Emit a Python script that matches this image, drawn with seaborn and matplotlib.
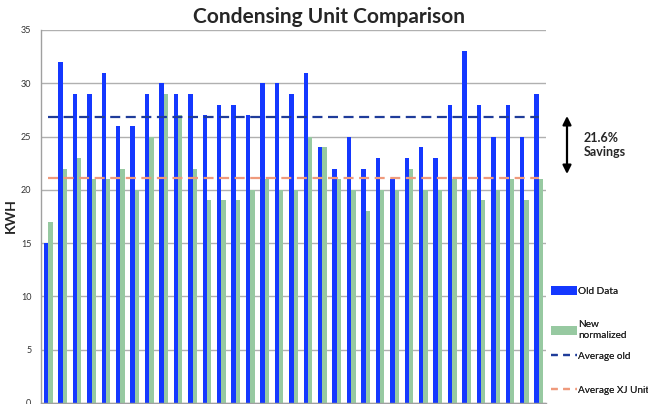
import matplotlib
matplotlib.use("Agg")
import matplotlib.pyplot as plt
import seaborn as sns
import numpy as np
import pandas as pd
from matplotlib.patches import Patch, FancyArrowPatch
from matplotlib.lines import Line2D

sns.set_theme(style="white")
plt.rcParams['font.family'] = ['Lato', 'DejaVu Sans']

# KWH per unit
old_data = [15, 32, 29, 29, 31, 26, 26, 29, 30, 29, 29, 27, 28, 28, 27, 30, 30, 29, 31, 24,
            22, 25, 22, 23, 21, 23, 24, 23, 28, 33, 28, 25, 28, 25, 29]
new_normalized = [17, 22, 23, 21, 21, 22, 20, 25, 29, 27, 22, 19, 19, 19, 20, 21, 20, 20, 25, 24,
                  21, 20, 18, 20, 20, 22, 20, 20, 21, 20, 19, 20, 21, 19, 21]
units = list(range(1, len(old_data) + 1))
series_names = ["Old Data", "New normalized"]
savings_label = "21.6%\nSavings"

blue = "#1438ff"
green = "#97c9a1"
navy = "#1f3c9a"
salmon = "#ef9a7c"

df = pd.DataFrame({
    "unit": units * 2,
    "kwh": old_data + new_normalized,
    "series": [series_names[0]] * len(units) + [series_names[1]] * len(units),
})

fig = plt.figure(figsize=(6.48, 4.04), dpi=100)
ax = fig.add_axes([0.0633, 0.0025, 0.7793, 0.9233])

sns.barplot(data=df, x="unit", y="kwh", hue="series", palette=[blue, green],
            width=0.6, ax=ax, legend=False, saturation=1, linewidth=0)

# average lines across the categories
avg_old = np.mean(old_data)
avg_new = np.mean(new_normalized)
dash = (0, (4.5, 2.5))
ax.hlines(avg_old, 0, len(units) - 1, colors=navy, linewidth=1.6, linestyles=dash, zorder=3)
ax.hlines(avg_new, 0, len(units) - 1, colors=salmon, linewidth=1.6, linestyles=dash, zorder=3)

ax.set_ylim(0, 35)
ax.set_xlim(-0.5, len(units) - 0.5)
ax.set_yticks(np.arange(0, 36, 5))
ax.yaxis.grid(True, color="#b0b0b0", linewidth=1)
ax.set_axisbelow(True)
ax.set_xticks([])
ax.set_xlabel("")
ax.set_ylabel("")
ax.tick_params(axis="y", labelsize=6.5, length=4, width=1, color="#a0a0a0", pad=3, labelcolor="#333333")
for side in ["top", "right"]:
    ax.spines[side].set_visible(False)
for side in ["left", "bottom"]:
    ax.spines[side].set_color("#a0a0a0")
    ax.spines[side].set_linewidth(1)

fig.text(0.017, 1 - 216 / 404, "KWH", rotation=90, fontsize=10, fontweight="bold",
         ha="center", va="center")
fig.suptitle("Condensing Unit Comparison", x=0.507, y=1 - 17 / 404, va="center",
             fontsize=15, fontweight="bold")

# legend entries, one per row
entries = [
    (Patch(facecolor=blue, edgecolor="none"), "Old Data", 291),
    (Patch(facecolor=green, edgecolor="none"), "New\nnormalized", 330),
    (Line2D([0], [0], color=navy, linewidth=1.6, linestyle=(0, (3, 2.5))), "Average old", 356),
    (Line2D([0], [0], color=salmon, linewidth=1.6, linestyle=(0, (3, 2.5))), "Average XJ Unit", 390),
]
for handle, label, ypix in entries:
    leg = fig.legend([handle], [label], loc="center left", bbox_to_anchor=(551 / 648, 1 - ypix / 404),
                     frameon=False, fontsize=7.2, handlelength=2.6, handleheight=1.0,
                     handletextpad=0.12, borderpad=0, borderaxespad=0)
    fig.add_artist(leg)

# savings arrow between the two averages
fig.add_artist(FancyArrowPatch(
    (567 / 648, 1 - 116 / 404), (567 / 648, 1 - 174 / 404), transform=fig.transFigure,
    arrowstyle="<|-|>,head_length=0.5,head_width=0.25", mutation_scale=10, color="black",
    linewidth=1.6, shrinkA=0, shrinkB=0))
fig.text(584 / 648, 1 - 145 / 404, savings_label, fontsize=9, fontweight="bold", va="center",
         ha="left", linespacing=1.25)

fig.savefig("out.png", dpi=100)
